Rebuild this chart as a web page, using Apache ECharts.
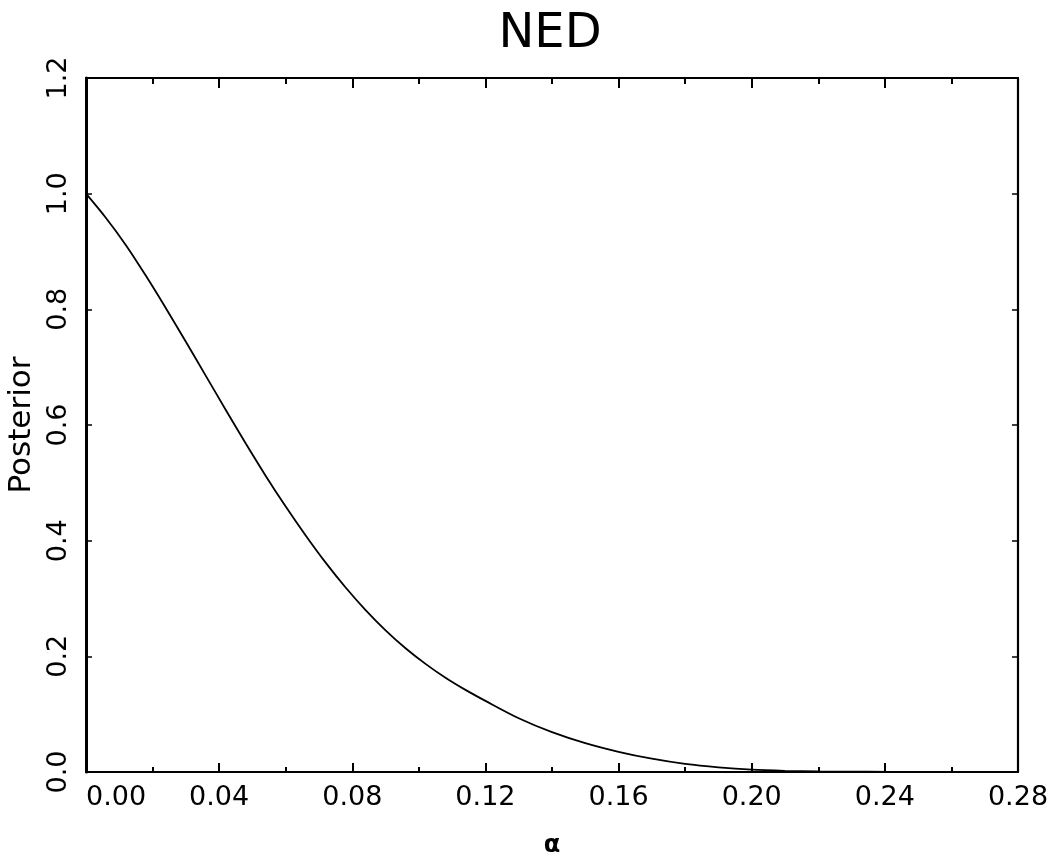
<!DOCTYPE html>
<html>
<head>
<meta charset="utf-8">
<script src="https://cdn.jsdelivr.net/npm/echarts@6/dist/echarts.min.js"></script>
<style>
  html, body { margin: 0; padding: 0; background: #fff; }
  #chart { width: 1062px; height: 859px; }
</style>
</head>
<body>
<div id="chart"></div>
<script>
// Posterior density of alpha (NED)
const alpha = [0.000, 0.006, 0.012, 0.018, 0.024, 0.030, 0.036, 0.042, 0.048, 0.054,
               0.060, 0.066, 0.072, 0.078, 0.084, 0.090, 0.096, 0.102, 0.108, 0.114,
               0.120, 0.130, 0.140, 0.150, 0.160, 0.170, 0.180, 0.190, 0.200, 0.210,
               0.220, 0.235, 0.250];
const posterior = [1.000, 0.958, 0.911, 0.858, 0.802, 0.744, 0.685, 0.626, 0.568, 0.512,
                   0.459, 0.409, 0.362, 0.319, 0.280, 0.245, 0.214, 0.187, 0.163, 0.142,
                   0.123, 0.093, 0.069, 0.050, 0.035, 0.023, 0.014, 0.008, 0.004, 0.002,
                   0.001, 0.0005, 0.0002];

const xTicks = { min: 0, max: 0.28, step: 0.04 };
const yTicks = { min: 0, max: 1.2, step: 0.2 };

const FONT = 'DejaVu Sans';
const points = alpha.map((a, i) => [a, posterior[i]]);

const chart = echarts.init(document.getElementById('chart'), null, { renderer: 'canvas' });

const frameLine = { show: true, onZero: false, lineStyle: { color: '#000', width: 2.2 } };

chart.setOption({
  backgroundColor: '#fff',
  animation: false,
  title: {
    text: 'NED',
    left: 545, top: 6, textAlign: 'center',
    textStyle: { fontFamily: FONT, fontSize: 48, fontWeight: 'normal', color: '#000' }
  },
  grid: { left: 86, right: 44, top: 78, bottom: 87, containLabel: false, outerBoundsMode: 'none' },
  xAxis: [
    {
      type: 'value', position: 'bottom',
      min: xTicks.min, max: xTicks.max, interval: xTicks.step,
      name: 'α', nameLocation: 'middle', nameGap: 62,
      nameTextStyle: { fontFamily: FONT, fontSize: 24, color: '#000', fontWeight: 'bold' },
      axisLine: frameLine,
      axisTick: { show: true, inside: true, length: 9, lineStyle: { color: '#000', width: 2 } },
      minorTick: { show: true, splitNumber: 2, length: 5, lineStyle: { color: '#000', width: 2 } },
      splitLine: { show: false },
      axisLabel: {
        fontFamily: FONT, fontSize: 27, color: '#000', margin: 12,
        alignMinLabel: 'left',
        formatter: v => v.toFixed(2)
      }
    },
    {
      type: 'value', position: 'top',
      min: xTicks.min, max: xTicks.max, interval: xTicks.step,
      axisLine: frameLine,
      axisTick: { show: true, inside: true, length: 10, lineStyle: { color: '#000', width: 2 } },
      minorTick: { show: true, splitNumber: 2, length: 6, lineStyle: { color: '#000', width: 2 } },
      splitLine: { show: false },
      axisLabel: { show: false }
    }
  ],
  yAxis: [
    {
      type: 'value', position: 'left',
      min: yTicks.min, max: yTicks.max, interval: yTicks.step,
      name: 'Posterior', nameLocation: 'middle', nameGap: 46,
      nameTextStyle: { fontFamily: FONT, fontSize: 31, color: '#000' },
      axisLine: { show: true, onZero: false, lineStyle: { color: '#000', width: 3 } },
      axisTick: { show: true, inside: true, length: 6, lineStyle: { color: '#000', width: 1.5 } },
      splitLine: { show: false },
      axisLabel: {
        fontFamily: FONT, fontSize: 27, color: '#000', margin: 14, rotate: 90,
        formatter: v => v.toFixed(1)
      }
    },
    {
      type: 'value', position: 'right',
      min: yTicks.min, max: yTicks.max, interval: yTicks.step,
      axisLine: frameLine,
      axisTick: { show: true, inside: true, length: 6, lineStyle: { color: '#000', width: 1.5 } },
      splitLine: { show: false },
      axisLabel: { show: false }
    }
  ],
  series: [{
    type: 'line',
    xAxisIndex: 0, yAxisIndex: 0,
    data: points,
    smooth: 0.3,
    showSymbol: false,
    clip: true,
    lineStyle: { color: '#000', width: 1.8 }
  }]
});
</script>
</body>
</html>
